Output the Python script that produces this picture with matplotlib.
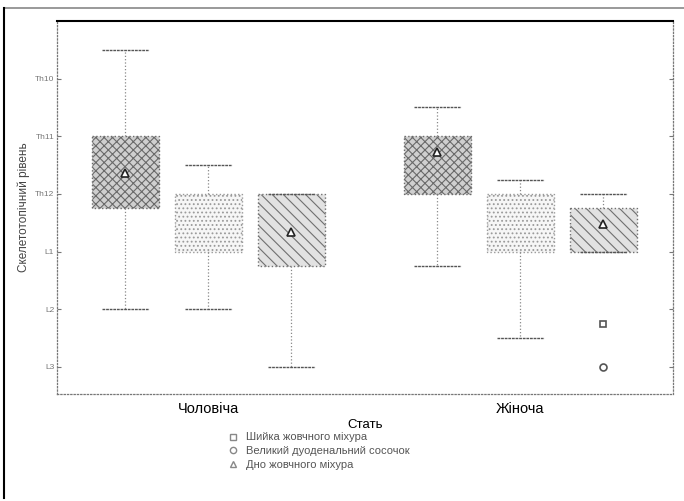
import matplotlib
matplotlib.use("Agg")
import matplotlib.pyplot as plt
from matplotlib.lines import Line2D

plt.rcParams['font.family'] = ['Liberation Sans', 'DejaVu Sans']
plt.rcParams['hatch.linewidth'] = 0.8

# skeletotopic levels, numeric code -> label (Th10=10 ... L3=15)
level_pos = [10, 11, 12, 13, 14, 15]
level_lbl = ['Th10', 'Th11', 'Th12', 'L1', 'L2', 'L3']

groups = ['Чоловіча', 'Жіноча']
series = ['Шийка жовчного міхура', 'Великий дуоденальний сосочок', 'Дно жовчного міхура']

# per group: [шийка, ВДС, дно]
q1 = {'Чоловіча': [11, 12, 12], 'Жіноча': [11, 12, 12.25]}
q3 = {'Чоловіча': [12.25, 13, 13.25], 'Жіноча': [12, 13, 13]}
wlo = {'Чоловіча': [9.5, 11.5, 12], 'Жіноча': [10.5, 11.75, 12]}
whi = {'Чоловіча': [14, 14, 15], 'Жіноча': [13.25, 14.5, 13]}
centre = {'Чоловіча': [11.64, None, 12.66], 'Жіноча': [11.27, None, 12.52]}
# outliers of "дно" in the female group
out_sq = [14.25]
out_ci = [15.0]

offsets = [-0.266, 0.0, 0.266]
box_w = 0.215
faces = ['#cfcfcf', '#f6f6f6', '#e2e2e2']
hatches = ['xxxx', '....', '\\\\\\']
edges = ['#6a6a6a', '#9a9a9a', '#707070']
marks = ['s', 'o', '^']

fig = plt.figure(figsize=(6.84, 5.01), dpi=100)
ax = fig.add_axes([0.0833, 0.2136, 0.9007, 0.7445])

for gi, g in enumerate(groups):
    stats = []
    pos = []
    for si in range(3):
        stats.append(dict(q1=q1[g][si], q3=q3[g][si], med=q1[g][si],
                          whislo=wlo[g][si], whishi=whi[g][si], fliers=[]))
        pos.append(gi + offsets[si])
    res = ax.bxp(stats, positions=pos, widths=box_w, patch_artist=True,
                 showfliers=False, capwidths=0.15,
                 medianprops=dict(visible=False),
                 whiskerprops=dict(color='#888888', lw=0.9, ls=':'),
                 capprops=dict(color='#555555', lw=1.0, ls=(0, (2, 0.6))),
                 boxprops=dict(lw=1.0, ls=':'))
    for si, b in enumerate(res['boxes']):
        b.set_facecolor(faces[si])
        b.set_edgecolor(edges[si])
        b.set_hatch(hatches[si])
    for si in range(3):
        c = centre[g][si]
        if c is not None:
            ax.plot(pos[si], c, marker='^', ms=6, mfc='white', mec='#222222', mew=1.2, zorder=5)

ax.plot([1 + offsets[2]], out_sq, ls='none', marker='s', ms=5, mfc='white', mec='#555555', mew=1.2)
ax.plot([1 + offsets[2]], out_ci, ls='none', marker='o', ms=5, mfc='white', mec='#555555', mew=1.2)

ax.set_xlim(-0.485, 1.49)
ax.set_ylim(15.47, 9.0)
ax.set_yticks(level_pos)
ax.set_yticklabels(level_lbl, fontsize=6, color='#777777')
ax.set_xticks([0, 1])
ax.set_xticklabels(groups, fontsize=10.5)
ax.tick_params(axis='x', length=0, pad=6)
ax.tick_params(axis='y', direction='in', length=3, right=True, color='#777777', pad=2)
ax.set_xlabel('Стать', fontsize=9.5, labelpad=2)
ax.set_ylabel('Скелетотопічний рівень', fontsize=8.5, color='#444444')
ax.yaxis.set_label_coords(-0.043, 0.5)

for s in ['left', 'bottom', 'right']:
    ax.spines[s].set_linestyle(':')
    ax.spines[s].set_color('#777777')
    ax.spines[s].set_linewidth(0.9)
ax.spines['top'].set_color('black')
ax.spines['top'].set_linewidth(1.5)

# legend under the chart
handles = [Line2D([], [], ls='none', marker=m, ms=4.5, mfc='white', mec='#888888', mew=1.0)
           for m in marks]
fig.legend(handles, series, loc='upper left', bbox_to_anchor=(0.325, 0.148),
           frameon=False, fontsize=8, handlelength=1.0, handletextpad=0.6,
           labelspacing=0.35, borderpad=0, labelcolor='#555555')

# frame round the whole figure
fig.add_artist(Line2D([0.006, 1.0], [0.984, 0.984], color='#888888', lw=1.2))
fig.add_artist(Line2D([0.006, 0.006], [0.006, 0.984], color='black', lw=1.5))

fig.savefig('out.png', dpi=100)
